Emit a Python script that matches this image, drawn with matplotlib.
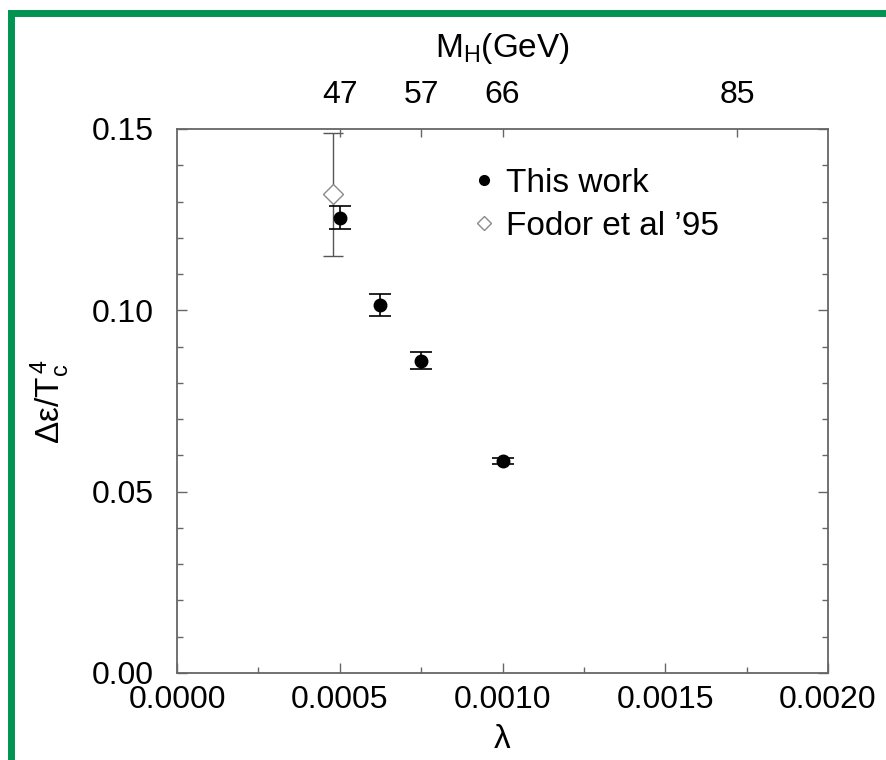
import matplotlib
matplotlib.use("Agg")
import matplotlib.pyplot as plt
from matplotlib.lines import Line2D
from matplotlib.patches import Rectangle
from matplotlib.ticker import MultipleLocator

plt.rcParams['font.family'] = ['Liberation Sans', 'DejaVu Sans']
plt.rcParams['mathtext.default'] = 'regular'

# this work
lam = [0.0005, 0.000625, 0.00075, 0.001]
de = [0.1255, 0.1015, 0.0861, 0.0585]
de_err = [0.0032, 0.0030, 0.0024, 0.0008]

# Fodor et al '95
lam_f = [0.00048]
de_f = [0.132]
de_f_err = [0.017]

# top axis: Higgs mass
mh_pos = [0.0005, 0.00075, 0.001, 0.00172]
mh_labels = ['47', '57', '66', '85']

fig = plt.figure(figsize=(8.86, 7.6), dpi=100)
ax = fig.add_axes([0.1998, 0.1145, 0.7348, 0.7158])

ax.errorbar(lam_f, de_f, yerr=de_f_err, fmt='D', ms=10, mfc='white', mec='#8a8a8a',
            mew=1.0, ecolor='#555555', elinewidth=1.0, capsize=7, capthick=1.0, zorder=2)
ax.errorbar(lam, de, yerr=de_err, fmt='o', ms=9, color='black', ecolor='black',
            elinewidth=1.2, capsize=8, capthick=1.2, zorder=3)

ax.set_xlim(0, 0.002)
ax.set_ylim(0, 0.15)
ax.xaxis.set_major_locator(MultipleLocator(0.0005))
ax.xaxis.set_minor_locator(MultipleLocator(0.00025))
ax.yaxis.set_major_locator(MultipleLocator(0.05))
ax.yaxis.set_minor_locator(MultipleLocator(0.01))
ax.xaxis.set_major_formatter(plt.FormatStrFormatter('%.4f'))
ax.yaxis.set_major_formatter(plt.FormatStrFormatter('%.2f'))

for s in ax.spines.values():
    s.set_color('#666666')
    s.set_linewidth(1.3)
ax.tick_params(which='both', direction='in', top=False, right=True, color='#666666',
               labelsize=23)
ax.tick_params(which='major', length=7, width=1.0)
ax.tick_params(which='minor', length=4, width=1.0)
ax.tick_params(axis='y', which='both', pad=17)
ax.tick_params(axis='x', which='both', pad=9)

ax.set_xlabel('\u03bb', fontsize=24, labelpad=6)
ax.set_ylabel('\u0394\u03b5/T$_c^{\\,4}$', fontsize=24, labelpad=14)

top = ax.twiny()
top.set_xlim(ax.get_xlim())
top.set_xticks(mh_pos)
top.set_xticklabels(mh_labels)
top.xaxis.set_minor_locator(plt.NullLocator())
top.tick_params(direction='in', length=6, width=1.0, color='#666666', labelsize=23, pad=14)
top.set_xlabel('M$_H$(GeV)', fontsize=24, labelpad=16)
for s in top.spines.values():
    s.set_visible(False)

handles = [Line2D([], [], ls='none', marker='o', ms=7, color='black'),
           Line2D([], [], ls='none', marker='D', ms=7.5, mfc='white', mec='#8a8a8a', mew=1.0)]
labels = ['This work', "Fodor et al \u201995"]
ax.legend(handles, labels, loc='upper left', bbox_to_anchor=(0.456, 0.928),
          frameon=False, fontsize=24, handlelength=0.6, handletextpad=0.35,
          labelspacing=0.36, borderpad=0, borderaxespad=0)

# green frame of the original figure
fig.patches.append(Rectangle((11 / 886, -0.05), 1.0, 1.0 - 12.5 / 760 + 0.05,
                             transform=fig.transFigure, fill=False,
                             edgecolor='#009450', linewidth=5))

fig.savefig('out.png', dpi=100)
